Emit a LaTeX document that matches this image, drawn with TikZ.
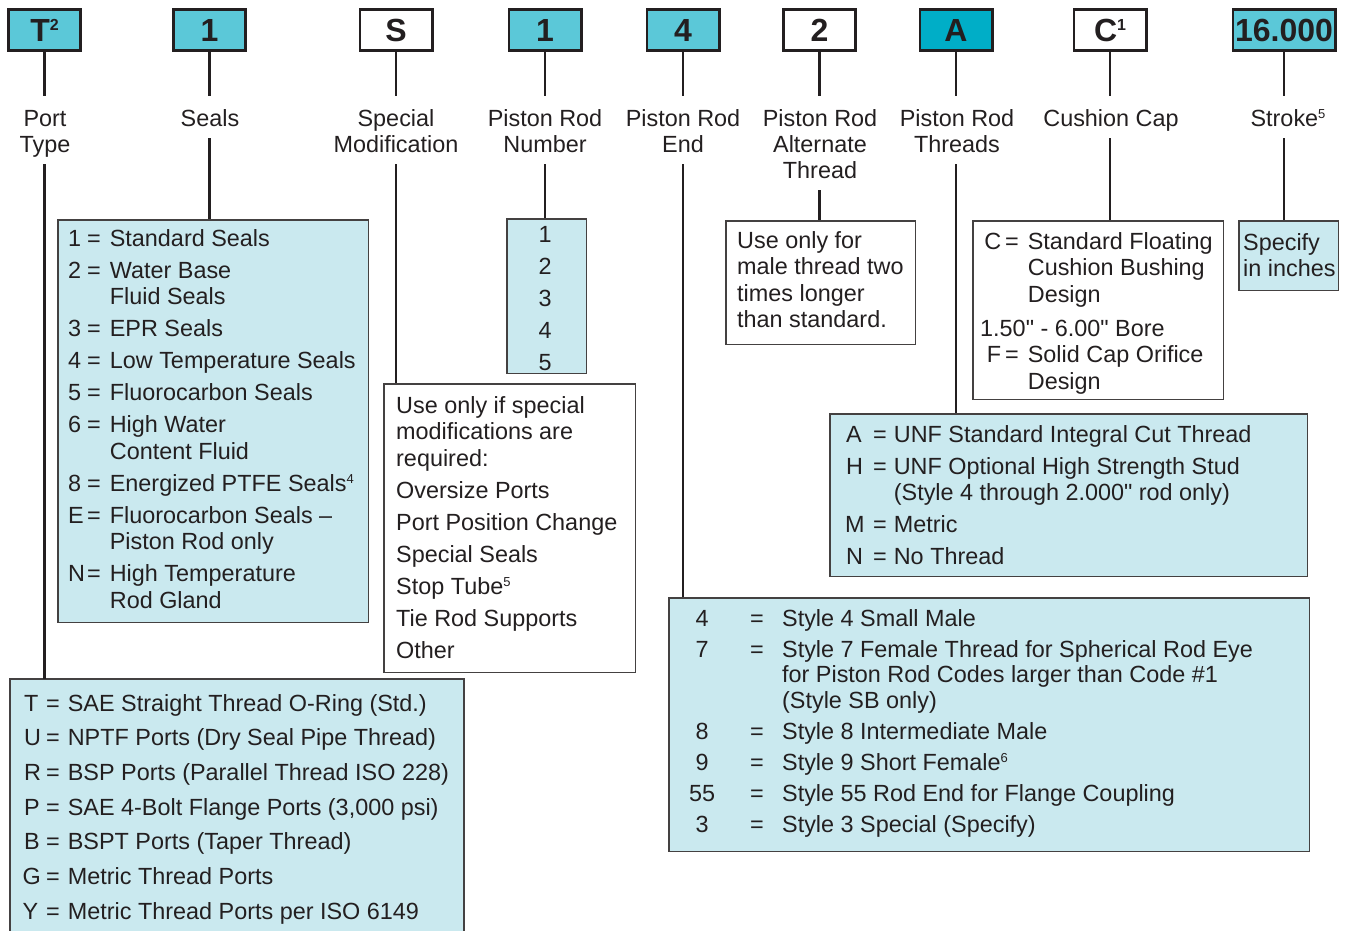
\documentclass[tikz,border=0pt]{standalone}
\usepackage{fontspec}
\defaultfontfeatures[\rmfamily]{}
\setmainfont{Liberation Sans}
\definecolor{topcyan}{RGB}{91,200,216}
\definecolor{deepcyan}{RGB}{0,174,199}
\definecolor{lightbg}{RGB}{202,233,239}
\definecolor{ink}{RGB}{35,31,32}
\newcommand\supr[1]{\raisebox{7.5pt}{\fontsize{13}{13}\selectfont #1}}
\newcommand\bigsup[1]{\raisebox{11.5pt}{\fontsize{16}{16}\selectfont\bfseries #1}}
\begin{document}
\begin{tikzpicture}[x=1pt,y=-1pt,
  codebox/.style={draw=ink, line width=2.8pt, minimum width=72.2pt, minimum height=41.2pt,
    inner sep=0pt, font={\fontsize{32}{32}\selectfont\bfseries}, text=ink, text height=23pt, text depth=0pt},
  lab/.style={anchor=base, inner sep=0pt, text=ink, font={\fontsize{23.4}{26}\selectfont}},
  conn/.style={draw=ink, line width=2.5pt},
  panel/.style={draw=ink!85, line width=1.5pt, inner sep=0pt, anchor=north west},
  txt/.style={anchor=base west, inner sep=0pt, text=ink, font={\fontsize{23.4}{26.5}\selectfont}}]
\useasboundingbox (0,0) rectangle (1346,930);

% code boxes
\node[codebox, fill=topcyan] (c1) at (44.5,30) {T\bigsup{2}};
\node[codebox, fill=topcyan] (c2) at (209.5,30) {1};
\node[codebox, fill=white] (c3) at (396,30) {S};
\node[codebox, fill=topcyan] (c4) at (545,30) {1};
\node[codebox, fill=topcyan] (c5) at (683,30) {4};
\node[codebox, fill=white] (c6) at (819.5,30) {2};
\node[codebox, fill=deepcyan] (c7) at (956,30) {A};
\node[codebox, fill=white] (c8) at (1110,30) {C\bigsup{1}};
\node[codebox, fill=topcyan, minimum width=102.2pt] (c9) at (1284,30) {16.000};

% labels
\node[lab] (l1) at (45,126) {\begin{tabular}[t]{@{}c@{}}Port\\Type\end{tabular}};
\node[lab] (l2) at (210,126) {\begin{tabular}[t]{@{}c@{}}Seals\end{tabular}};
\node[lab] (l3) at (396,126) {\begin{tabular}[t]{@{}c@{}}Special\\Modification\end{tabular}};
\node[lab] (l4) at (545,126) {\begin{tabular}[t]{@{}c@{}}Piston Rod\\Number\end{tabular}};
\node[lab] (l5) at (683,126) {\begin{tabular}[t]{@{}c@{}}Piston Rod\\End\end{tabular}};
\node[lab] (l6) at (820,126) {\begin{tabular}[t]{@{}c@{}}Piston Rod\\Alternate\\Thread\end{tabular}};
\node[lab] (l7) at (957,126) {\begin{tabular}[t]{@{}c@{}}Piston Rod\\Threads\end{tabular}};
\node[lab] (l8) at (1111,126) {\begin{tabular}[t]{@{}c@{}}Cushion Cap\end{tabular}};
\node[lab] (l9) at (1288,126) {\begin{tabular}[t]{@{}c@{}}Stroke\supr{5}\end{tabular}};

% panels
\node[panel, draw=none, fill=lightbg, minimum width=452.5pt, minimum height=260pt] (b1) at (10,679) {};
\draw[ink!85, line width=1.5pt] (b1.south west) -- (b1.north west) -- (b1.north east) -- (b1.south east);
\node[panel, fill=lightbg, minimum width=310.5pt, minimum height=402.5pt] (b2) at (57,219) {};
\node[panel, fill=white, minimum width=251.5pt, minimum height=288.5pt] (b3) at (383,383) {};
\node[panel, fill=lightbg, minimum width=79.5pt, minimum height=154.5pt] (b4) at (506,218) {};
\node[panel, fill=lightbg, minimum width=640.5pt, minimum height=253.5pt] (b5) at (668,597) {};
\node[panel, fill=white, minimum width=189.5pt, minimum height=123.5pt] (b6) at (725,220) {};
\node[panel, fill=lightbg, minimum width=477.5pt, minimum height=162.5pt] (b7) at (829,413) {};
\node[panel, fill=white, minimum width=250.5pt, minimum height=178.5pt] (b8) at (972,220) {};
\node[panel, fill=lightbg, minimum width=99.5pt, minimum height=69.5pt] (b9) at (1238,220) {};

% connectors
\foreach \i in {1,...,9}{
  \draw[conn, shorten >=11.8pt] (c\i.south) -- (c\i.south |- l\i.north);
  \draw[conn, shorten <=4pt] (c\i.south |- l\i.south) -- (c\i.south |- b\i.north);
}

% panel texts
\node[txt] (t1) at (24,711) {\begin{tabular}[t]{@{}l@{}l@{\hspace{8pt}}l@{}}
\makebox[22pt][l]{T} & = & SAE Straight Thread O-Ring (Std.)\\[8.2pt]
\makebox[22pt][l]{U} & = & NPTF Ports (Dry Seal Pipe Thread)\\[8.2pt]
\makebox[22pt][l]{R} & = & BSP Ports (Parallel Thread ISO 228)\\[8.2pt]
\makebox[22pt][l]{P} & = & SAE 4-Bolt Flange Ports (3,000 psi)\\[8.2pt]
\makebox[22pt][l]{B} & = & BSPT Ports (Taper Thread)\\[8.2pt]
\makebox[22pt][l]{\hspace{-1.5pt}G} & = & Metric Thread Ports\\[8.2pt]
\makebox[22pt][l]{\hspace{-1.5pt}Y} & = & Metric Thread Ports per ISO 6149
\end{tabular}};

\node[txt] (t2) at (68,246) {\begin{tabular}[t]{@{}l@{}l@{\hspace{9pt}}l@{}}
\makebox[19pt][l]{1} & = & Standard Seals\\[5.5pt]
\makebox[19pt][l]{2} & = & Water Base\\
 & & Fluid Seals\\[5.5pt]
\makebox[19pt][l]{3} & = & EPR Seals\\[5.5pt]
\makebox[19pt][l]{4} & = & Low Temperature Seals\\[5.5pt]
\makebox[19pt][l]{5} & = & Fluorocarbon Seals\\[5.5pt]
\makebox[19pt][l]{6} & = & High Water\\
 & & Content Fluid\\[5.5pt]
\makebox[19pt][l]{8} & = & Energized PTFE Seals\supr{4}\\[5.5pt]
\makebox[19pt][l]{E} & = & Fluorocarbon Seals \textendash\\
 & & Piston Rod only\\[5.5pt]
\makebox[19pt][l]{N} & = & High Temperature\\
 & & Rod Gland
\end{tabular}};

\node[txt] (t3) at (396,413) {\begin{tabular}[t]{@{}l@{}}
Use only if special\\ modifications are\\ required:\\[5.5pt]
Oversize Ports\\[5.5pt] Port Position Change\\[5.5pt] Special Seals\\[5.5pt]
Stop Tube\supr{5}\\[5.5pt] Tie Rod Supports\\[5.5pt] Other
\end{tabular}};

\node[lab] (t4) at (545,242) {\begin{tabular}[t]{@{}c@{}}1\\[6pt]2\\[6pt]3\\[6pt]4\\[6pt]5\end{tabular}};

\node[txt, font={\fontsize{23.4}{25.5}\selectfont}] (t5) at (680,626) {\begin{tabular}[t]{@{}l@{\hspace{26pt}}l@{\hspace{18.3pt}}l@{}}
\makebox[44pt][c]{4} & = & Style 4 Small Male\\[5.5pt]
\makebox[44pt][c]{7} & = & Style 7 Female Thread for Spherical Rod Eye\\
 & & for Piston Rod Codes larger than Code \#1\\
 & & (Style SB only)\\[5.5pt]
\makebox[44pt][c]{8} & = & Style 8 Intermediate Male\\[5.5pt]
\makebox[44pt][c]{9} & = & Style 9 Short Female\supr{6}\\[5.5pt]
\makebox[44pt][c]{55} & = & Style 55 Rod End for Flange Coupling\\[5.5pt]
\makebox[44pt][c]{3} & = & Style 3 Special (Specify)
\end{tabular}};

\node[txt] (t6) at (737,248) {\begin{tabular}[t]{@{}l@{}}
Use only for\\ male thread two\\ times longer\\ than standard.
\end{tabular}};

\node[txt] (t7) at (846,442) {\begin{tabular}[t]{@{}l@{}l@{\hspace{7pt}}l@{}}
\makebox[27pt][l]{A} & = & UNF Standard Integral Cut Thread\\[5.5pt]
\makebox[27pt][l]{H} & = & UNF Optional High Strength Stud\\
 & & (Style 4 through 2.000" rod only)\\[5.5pt]
\makebox[27pt][l]{\hspace{-1pt}M} & = & Metric\\[5.5pt]
\makebox[27pt][l]{N} & = & No Thread
\end{tabular}};

\node[txt] (t8) at (984,249) {\begin{tabular}[t]{@{}l@{\hspace{4pt}}l@{\hspace{9pt}}l@{}}
\makebox[17pt][r]{C} & = & Standard Floating\\
 & & Cushion Bushing\\
 & & Design\\[7.5pt]
\multicolumn{3}{@{}l@{}}{\hspace{-4pt}1.50" - 6.00" Bore}\\
\makebox[17pt][r]{F} & = & Solid Cap Orifice\\
 & & Design
\end{tabular}};

\node[txt] (t9) at (1243,250) {\begin{tabular}[t]{@{}l@{}}Specify\\ in inches\end{tabular}};
\end{tikzpicture}
\end{document}
